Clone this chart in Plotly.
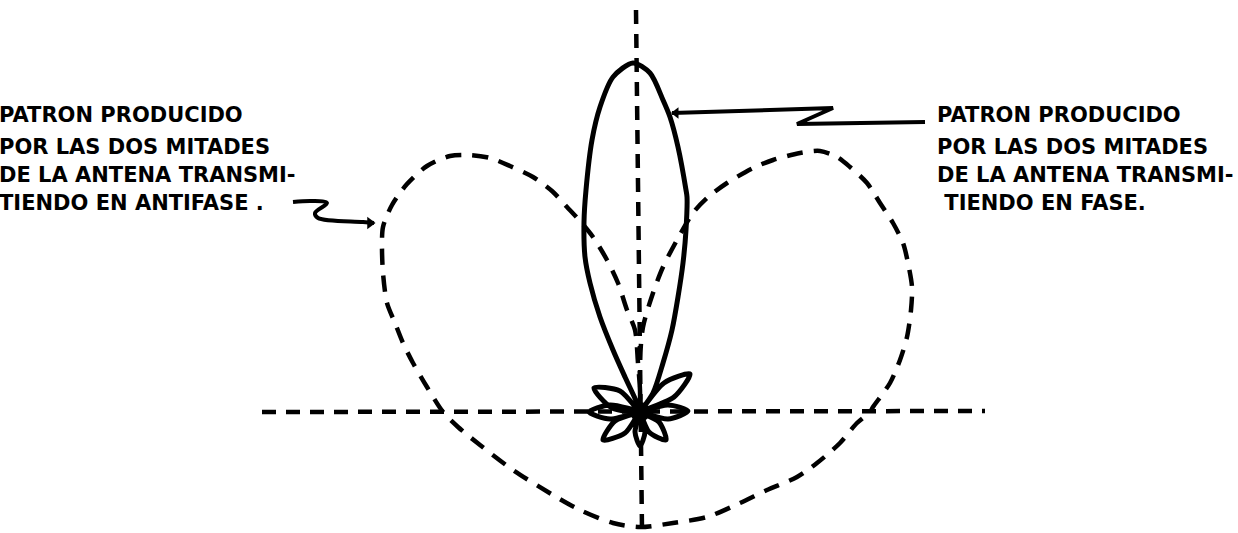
import plotly.graph_objects as go

# --- Coordenadas relativas al centro de la antena (x a la derecha, y hacia arriba) ---

# Diagrama en fase (linea continua): lobulo principal + lobulos secundarios
FASE_X = [0, 28, 48, 28, 0, 34, 50, 24, 0,
          13, 23, 32, 38, 43, 46, 47, 46, 38, 30, 23, 10, -7, -27, -40, -48, -54, -56, -55, -50, -40, -27, -15, -3, 0,
          -20, -46, -28, 0, -30, -51, -30, 0, -25, -37, -15, 0, -5, 0, 5, 0, 9, 26, 19, 0]
FASE_Y = [0, -7, 1, 7, 0, 15, 38, 29, 0,
          19, 49, 82, 115, 149, 182, 215, 222, 265, 295, 312, 339, 349, 335, 305, 272, 222, 190, 155, 129, 95, 62, 35, 9, 0,
          21, 24, 4, 0, 7, 0, -7, 0, -9, -28, -21, 0, -20, -34, -20, 0, -20, -28, -10, 0]

# Diagrama en antifase (linea discontinua)
ANTIFASE_X = [0, 0, -2, -5, -13, -22, -33, -47, -60, -73, -88, -107, -130, -150, -170, -190, -213, -233, -248,
              -257, -258, -257, -253, -245, -237, -227, -213, -197, -182, -160, -127, -87, -60, -27, 0, 33, 67,
              100, 127, 157, 177, 200, 217, 230, 233, 250, 260, 267, 271, 272, 268, 263, 253, 240, 227, 210, 197,
              180, 160, 133, 113, 87, 67, 53, 37, 23, 13, 3, 0, 0]
ANTIFASE_Y = [0, 22, 49, 82, 102, 129, 152, 175, 191, 205, 221, 235, 246, 254, 257, 256, 246, 228, 207,
              185, 165, 139, 109, 89, 69, 49, 25, 0, -15, -33, -58, -83, -98, -111, -115, -111, -105,
              -91, -78, -65, -51, -31, -11, 0, 5, 29, 52, 75, 102, 125, 149, 169, 189, 209, 229, 245, 255,
              261, 259, 252, 244, 229, 214, 199, 172, 145, 119, 85, 52, 0]

# Ejes de referencia
EJE_H_X = [-378, 345]
EJE_H_Y = [0, 1]
EJE_V_X = [-4, 2]
EJE_V_Y = [402, -118]

# Flechas de las leyendas
FLECHA_DER_X = [285, 157, 193, 32]
FLECHA_DER_Y = [290, 288, 304, 299]
FLECHA_IZQ_X = [-347, -328, -313, -325, -322, -277, -266]
FLECHA_IZQ_Y = [210, 211, 209, 199, 194, 190, 189]

TEXTO_IZQ = ["PATRON PRODUCIDO", "POR LAS DOS MITADES", "DE LA ANTENA TRANSMI-", "TIENDO EN ANTIFASE ."]
TEXTO_DER = ["PATRON PRODUCIDO", "POR LAS DOS MITADES", "DE LA ANTENA TRANSMI-", " TIENDO EN FASE."]
TEXTO_Y = [297, 265, 237, 209]

fig = go.Figure()

dash_line = dict(color="black", width=4.5, dash="14px,10px")
fig.add_trace(go.Scatter(x=EJE_H_X, y=EJE_H_Y, mode="lines", line=dash_line))
fig.add_trace(go.Scatter(x=EJE_V_X, y=EJE_V_Y, mode="lines", line=dash_line))

fig.add_trace(go.Scatter(x=ANTIFASE_X, y=ANTIFASE_Y, mode="lines",
                         line=dict(color="black", width=4.5, dash="16px,11px", shape="spline", smoothing=0.8)))
fig.add_trace(go.Scatter(x=FASE_X, y=FASE_Y, mode="lines",
                         line=dict(color="black", width=5, shape="spline", smoothing=0.8)))
# mancha central
fig.add_trace(go.Scatter(x=[0], y=[0], mode="markers", marker=dict(color="black", size=20)))

# flechas
fig.add_trace(go.Scatter(x=FLECHA_DER_X, y=FLECHA_DER_Y, mode="lines", line=dict(color="black", width=4)))
fig.add_trace(go.Scatter(x=[FLECHA_DER_X[-1] + 4], y=[FLECHA_DER_Y[-1]], mode="markers",
                         marker=dict(color="black", size=10, symbol="triangle-left")))
fig.add_trace(go.Scatter(x=FLECHA_IZQ_X, y=FLECHA_IZQ_Y, mode="lines",
                         line=dict(color="black", width=4, shape="spline")))
fig.add_trace(go.Scatter(x=[FLECHA_IZQ_X[-1] - 4], y=[FLECHA_IZQ_Y[-1]], mode="markers",
                         marker=dict(color="black", size=11, symbol="triangle-right")))

for txt, y in zip(TEXTO_IZQ, TEXTO_Y):
    fig.add_annotation(x=-3 / 1238, xref="paper", y=y, text="<b>" + txt + "</b>", showarrow=False,
                       xanchor="left", yanchor="middle",
                       font=dict(family="DejaVu Sans", size=21, color="black"))
for txt, y in zip(TEXTO_DER, TEXTO_Y):
    fig.add_annotation(x=295, y=y, text="<b>" + txt + "</b>", showarrow=False, xanchor="left", yanchor="middle",
                       font=dict(family="DejaVu Sans", size=21, color="black"))

fig.update_layout(
    width=1238, height=533,
    margin=dict(l=0, r=0, t=0, b=0),
    paper_bgcolor="white", plot_bgcolor="white",
    showlegend=False,
    hovermode=False,
    xaxis=dict(range=[-640, 598], visible=False, fixedrange=True),
    yaxis=dict(range=[-121, 412], visible=False, fixedrange=True),
)

# quitar el margen por defecto del <body> para que la figura quede en (0, 0)
fig.write_html("out.html", config={"displayModeBar": False},
               post_script="document.body.style.margin='0';")
